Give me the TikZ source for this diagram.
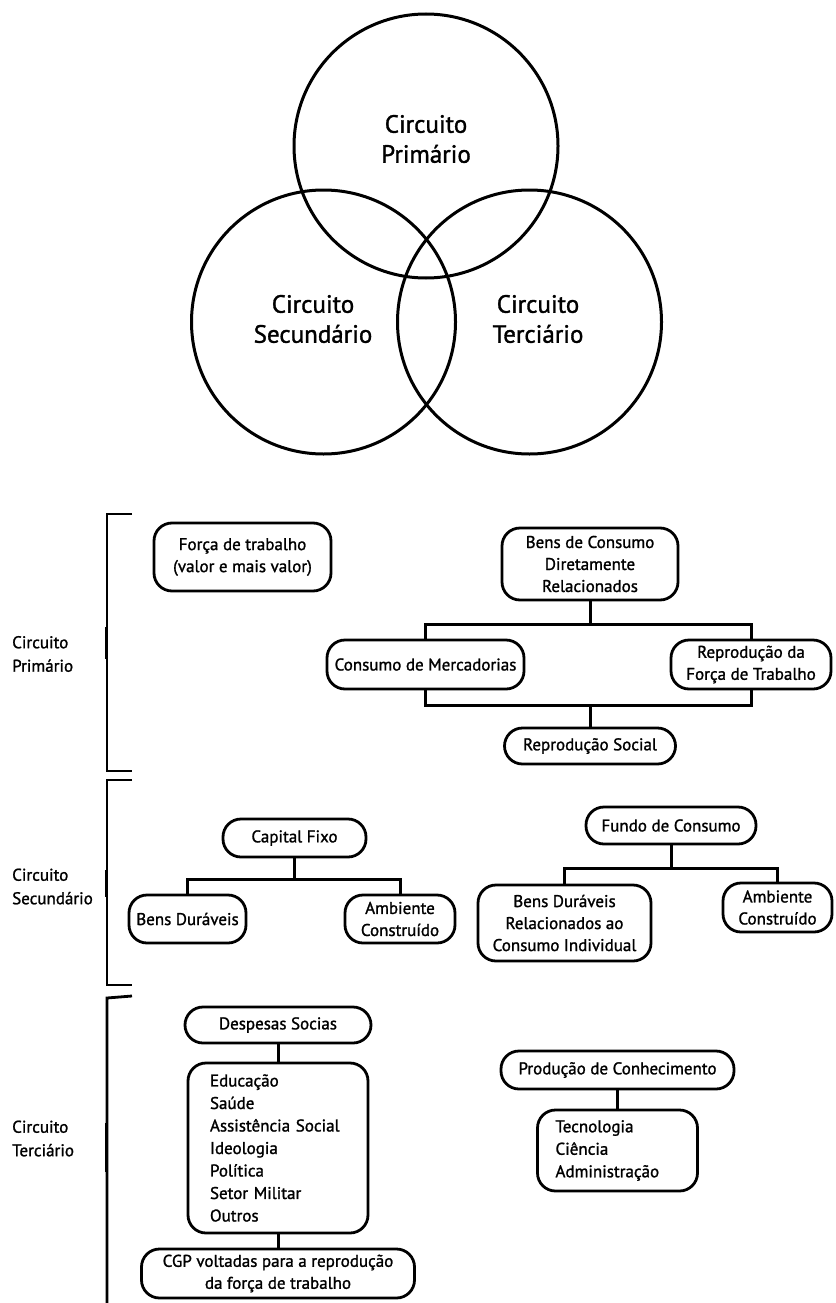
\documentclass[tikz,border=0pt]{standalone}
\usepackage{fontspec}
\setmainfont{PT Sans}[FakeBold=1.3]
\usetikzlibrary{positioning,calc}
\tikzset{
  ring/.style={circle, draw=black, line width=3pt, minimum size=264pt, inner sep=0pt},
  ringlbl/.style={align=center, inner sep=0pt, font=\fontsize{25}{30}\selectfont},
  box/.style={rectangle, rounded corners=18pt, draw=black, fill=white, line width=2.8pt,
              align=center, inner sep=0pt, font=\fontsize{17}{22}\selectfont},
  listbox/.style={box, align=left, font=\fontsize{17}{22.5}\selectfont},
  side/.style={align=left, anchor=west, inner sep=0pt, font=\fontsize{17}{23.5}\selectfont},
  link/.style={draw=black, line width=3pt},
  brace/.style={draw=black, line width=2.8pt},
  bracemid/.style={draw=black, line width=3.6pt}
}
\begin{document}
\begin{tikzpicture}[x=1pt, y=-1pt]
 \useasboundingbox (0,0) rectangle (835,1303);
 \node[ring] (cprim) at (426,146) {};
 \node[ring] (csec) at (323.5,322) {};
 \node[ring] (cter) at (529.5,322) {};
 \node[ringlbl] (lprim) at (426,139) {Circuito\\Primário};
 \node[ringlbl] (lsec) at (313,319) {Circuito\\Secundário};
 \node[ringlbl] (lter) at (538,319) {Circuito\\Terciário};

 \node[side] (sprim) at (12,654) {Circuito\\Primário};
 \node[side] (ssec) at (12,886.5) {Circuito\\Secundário};
 \node[side] (ster) at (12,1138.5) {Circuito\\Terciário};
 \draw[brace] (132,514) -- (107,514) -- (107,771) -- (132,771);
 \draw[bracemid] (106.5,627) -- (106.5,659);
 \draw[brace] (132,780) -- (107,780) -- (107,985) -- (132,985);
 \draw[bracemid] (106.5,870) -- (106.5,897);
 \draw[brace] (132,996) -- (107,998) -- (107,1303);
 \draw[bracemid] (106.5,1123) -- (106.5,1172);

 \node[box, minimum width=177, minimum height=68] (ft) at (242.5,557) {Força de trabalho\\(valor e mais valor)};
 \node[box, minimum width=176, minimum height=72] (bc) at (590,564) {Bens de Consumo\\Diretamente\\Relacionados};
 \node[box, minimum width=197, minimum height=49] (cm) at (425.5,664.5) {Consumo de Mercadorias};
 \node[box, minimum width=160, minimum height=49] (rf) at (751,664.5) {Reprodução da\\Força de Trabalho};
 \node[box, minimum width=171, minimum height=36] (rs) at (590,746) {Reprodução Social};
 \draw[link] (bc.south) -- ++(0,23) coordinate (bcbar);
 \draw[link] (cm.north) |- (bcbar) -| (rf.north);
 \coordinate (rsbar) at (590,705);
 \draw[link] (cm.south) |- (rsbar) -| (rf.south);
 \draw[link] (rsbar) -- (rs.north);

 \node[box, minimum width=143, minimum height=38] (cf) at (294.5,838) {Capital Fixo};
 \node[box, minimum width=117, minimum height=48] (bd) at (187.5,919) {Bens Duráveis};
 \node[box, minimum width=110, minimum height=48] (ac) at (400,919) {Ambiente\\Construído};
 \draw[link] (cf.south) -- ++(0,21) coordinate (cfbar);
 \draw[link] (bd.north) |- (cfbar) -| (ac.north);

 \node[box, minimum width=170, minimum height=37] (fc) at (671,825.5) {Fundo de Consumo};
 \node[box, minimum width=173, minimum height=76] (bdr) at (564.5,923) {Bens Duráveis\\Relacionados ao\\Consumo Individual};
 \node[box, minimum width=109, minimum height=49] (ac2) at (777.5,907.5) {Ambiente\\Construído};
 \draw[link] (fc.south) -- ++(0,23) coordinate (fcbar);
 \draw[link] (bdr.north) |- (fcbar) -| (ac2.north);

 \node[box, minimum width=186, minimum height=36] (ds) at (278,1025) {Despesas Socias};
 \node[listbox, minimum width=180, minimum height=170, text width=136] (dsl) at (278,1148) {Educação\\Saúde\\Assistência Social\\Ideologia\\Política\\Setor Militar\\Outros};
 \node[box, minimum width=273, minimum height=49] (cgp) at (278,1273.5) {CGP voltadas para a reprodução\\da força de trabalho};
 \draw[link] (ds.south) -- (dsl.north);
 \draw[link] (dsl.south) -- (cgp.north);

 \node[box, minimum width=233, minimum height=38] (pc) at (617.5,1070) {Produção de Conhecimento};
 \node[listbox, minimum width=160, minimum height=81, text width=124] (pcl) at (617.5,1150.5) {Tecnologia\\Ciência\\Administração};
 \draw[link] (pc.south) -- (pcl.north);
\end{tikzpicture}
\end{document}
